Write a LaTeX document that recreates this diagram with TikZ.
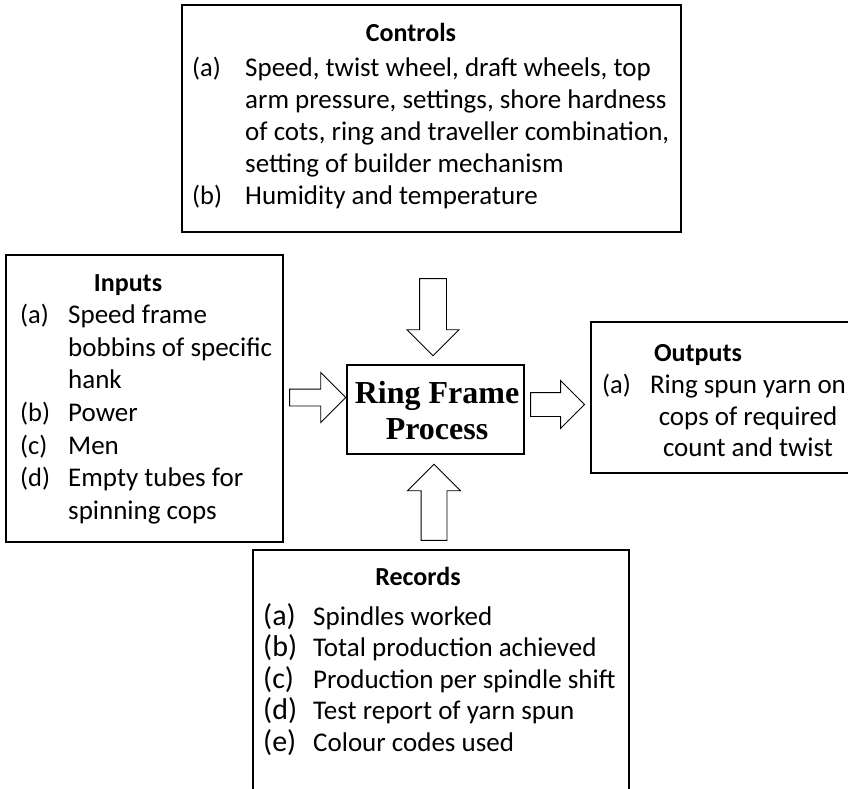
\documentclass[tikz,border=0pt]{standalone}
\usepackage{fontspec}
\setmainfont{Carlito}
\newfontfamily\procfont{Liberation Serif}
\usetikzlibrary{shapes.arrows,calc}

\begin{document}
\begin{tikzpicture}[x=1pt,y=-1pt,
  box/.style={draw, line width=1.6pt, rectangle, inner sep=0pt},
  blockarrow/.style={draw, line width=0.9pt, single arrow, inner xsep=0pt,
    single arrow tip angle=90},
  ttl/.style={font=\fontsize{26}{32}\selectfont\bfseries, anchor=base, inner sep=0pt},
  lbl/.style={font=\fontsize{26.5}{32}\selectfont, anchor=base west, inner sep=0pt},
  biglbl/.style={font=\fontsize{30}{32}\selectfont, anchor=base west, inner sep=0pt},
  itm/.style={font=\fontsize{27}{32}\selectfont, anchor=base west, inner sep=0pt},
  ctr/.style={font=\fontsize{27}{32}\selectfont, anchor=base, inner sep=0pt},
  proctxt/.style={font=\procfont\bfseries\fontsize{32}{36}\selectfont, anchor=base, inner sep=0pt},
]
\useasboundingbox (0,0) rectangle (848,788);
\clip (0,0) rectangle (848,788);

% frames
\node[box, minimum width=499pt, minimum height=227pt] (ctrl) at (431.5,118.5) {};
\node[box, minimum width=277pt, minimum height=287pt] (inp) at (144.5,398.5) {};
\node[box, minimum width=309pt, minimum height=151pt] (outp) at (745.5,397.5) {};
\node[box, minimum width=376pt, minimum height=280pt] (rec) at (441,690) {};
\node[box, line width=1.4pt, minimum width=177pt, minimum height=89pt] (proc) at (435.5,409.5) {};

% process label
\node[proctxt] (p1) at (437,403) {Ring Frame};
\node[proctxt] (p2) at (437,439) {Process};

% controls
\node[ttl] (ct) at (411,41) {Controls};
\node[lbl] (ca) at (192,76) {(a)};
\node[itm] (ca1) at (245,76) {Speed, twist wheel, draft wheels, top};
\node[itm] (ca2) at (245,108) {arm pressure, settings, shore hardness};
\node[itm] (ca3) at (245,140) {of cots, ring and traveller combination,};
\node[itm] (ca4) at (245,172) {setting of builder mechanism};
\node[lbl] (cb) at (192,204) {(b)};
\node[itm] (cb1) at (245,204) {Humidity and temperature};

% inputs
\node[ttl] (it) at (128,291) {Inputs};
\node[lbl] (ia) at (20,323) {(a)};
\node[itm] (ia1) at (68,323) {Speed frame};
\node[itm] (ia2) at (68,356) {bobbins of specific};
\node[itm] (ia3) at (68,388) {hank};
\node[lbl] (ib) at (20,421) {(b)};
\node[itm] (ib1) at (68,421) {Power};
\node[lbl] (ic) at (20,454) {(c)};
\node[itm] (ic1) at (68,454) {Men};
\node[lbl] (id) at (20,486) {(d)};
\node[itm] (id1) at (68,486) {Empty tubes for};
\node[itm] (id2) at (68,519) {spinning cops};

% outputs
\node[ttl] (ot) at (698,361) {Outputs};
\node[lbl] (oa) at (602,393) {(a)};
\node[ctr] (oa1) at (748,393) {Ring spun yarn on};
\node[ctr] (oa2) at (748,425) {cops of required};
\node[ctr] (oa3) at (748,456) {count and twist};

% records
\node[ttl] (rt) at (418,585) {Records};
\node[biglbl] (ra) at (263,625) {(a)};
\node[itm] (ra1) at (313,625) {Spindles worked};
\node[biglbl] (rb) at (263,656.5) {(b)};
\node[itm] (rb1) at (313,656.5) {Total production achieved};
\node[biglbl] (rc) at (263,688) {(c)};
\node[itm] (rc1) at (313,688) {Production per spindle shift};
\node[biglbl] (rd) at (263,719.5) {(d)};
\node[itm] (rd1) at (313,719.5) {Test report of yarn spun};
\node[biglbl] (re) at (263,751) {(e)};
\node[itm] (re1) at (313,751) {Colour codes used};

% block arrows into and out of the process
\node[blockarrow, rotate=-90, minimum height=77pt, inner ysep=13pt,
  single arrow head extend=12.5pt, anchor=tip] (actrl) at ($(proc.north)+(-2.5,-8)$) {};
\node[blockarrow, rotate=90, minimum height=76pt, inner ysep=12.5pt,
  single arrow head extend=13.5pt, anchor=tip] (arec) at ($(proc.south)+(-1.5,9)$) {};
\node[blockarrow, minimum height=56pt, inner ysep=8pt,
  single arrow head extend=16.5pt, anchor=tip] (ainp) at ($(proc.west)+(0,-12)$) {};
\node[blockarrow, minimum height=54pt, inner ysep=11.5pt,
  single arrow head extend=12pt, anchor=tip] (aout) at ($(outp.west)+(-5,7)$) {};
\end{tikzpicture}
\end{document}
